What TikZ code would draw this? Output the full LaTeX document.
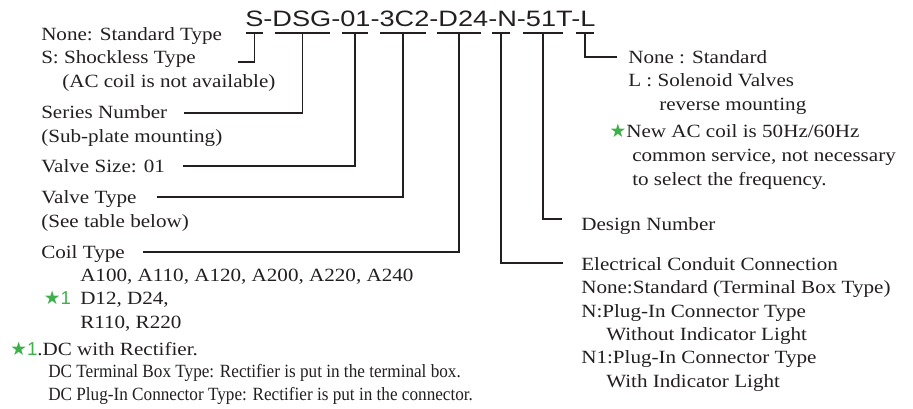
\documentclass[tikz,border=0pt]{standalone}
\usepackage{fontspec}
\setmainfont[FakeStretch=1.13]{Liberation Serif}
\newfontfamily\codefont[FakeStretch=1.22]{Liberation Sans}
\newfontfamily\numfont{Liberation Sans}
\newfontfamily\narrowfont[FakeStretch=0.92]{Liberation Serif}
\newfontfamily\symfont{DejaVu Sans}
\usepackage{tikz}
\usetikzlibrary{calc}
\definecolor{ink}{HTML}{231F20}
\definecolor{starGreen}{HTML}{3DB049}
\newcommand{\gstar}{{\color{starGreen}\symfont\fontsize{14}{14}\selectfont ★}}
\newcommand{\gone}{{\color{starGreen}\numfont 1}}
\tikzset{
  lbl/.style={anchor=base west, inner sep=0pt, align=left, text=ink, font=\fontsize{14}{17.5}\selectfont},
  notelbl/.style={lbl, font=\narrowfont\fontsize{14}{17.25}\selectfont},
  codetxt/.style={anchor=base west, inner sep=0pt, text=ink, font=\codefont\fontsize{16.7}{20}\selectfont},
  uline/.style={draw=ink, line width=0.9pt},
  lead/.style={draw=ink, line width=0.9pt}
}
\begin{document}
\begin{tikzpicture}[x=0.75pt,y=-0.75pt]
  \useasboundingbox (0,0) rectangle (913,408);
  % model code and its underlines
  \node[codetxt] (code) at (245,26) {S-DSG-01-3C2-D24-N-51T-L};
  \foreach \a/\b/\n in {246/263/S, 275/330/DSG, 342/368/01, 380/426/3C2,
                        437/481/D24, 492/510/N, 523/563/51T, 576/594/L}{
    \draw[uline] (\a,33) -- coordinate (u\n) (\b,33);
  }
  % left side labels (placed at the baseline of their last line)
  \node[lbl] (lType) at (41,87) {None: Standard Type\\S: Shockless Type\\\hspace*{15.75pt}(AC coil is not available)};
  \node[lbl] (lSeries) at (41,142) {Series Number\\(Sub-plate mounting)};
  \node[lbl] (lSize) at (41,172) {Valve Size: 01};
  \node[lbl] (lVType) at (41,227) {Valve Type\\(See table below)};
  \node[lbl] (lCoil) at (41,328) {Coil Type\\\hspace*{29.25pt}A100, A110, A120, A200, A220, A240\\
    \hspace*{2pt}\makebox[27.25pt][l]{\gstar\gone}D12, D24,\\\hspace*{29.25pt}R110, R220};
  \node[lbl] (lNote) at (10,355) {\gstar\gone.DC with Rectifier.};
  \node[notelbl] (lNoteA) at (48,400) {DC Terminal Box Type: Rectifier is put in the terminal box.\\
    DC Plug-In Connector Type: Rectifier is put in the connector.};
  % right side labels
  \node[lbl] (lRev) at (628,110) {None : Standard\\L : Solenoid Valves\\\hspace*{23.25pt}reverse mounting};
  \node[lbl, font=\fontsize{14}{18}\selectfont] (lFreq) at (626,185) {\llap{\gstar}New AC coil is 50Hz/60Hz\\
    \hspace*{4.5pt}common service, not necessary\\\hspace*{4.5pt}to select the frequency.};
  \node[lbl] (lDesign) at (581,230) {Design Number};
  \node[lbl] (lConduit) at (581,387) {Electrical Conduit Connection\\None:Standard (Terminal Box Type)\\
    N:Plug-In Connector Type\\\hspace*{18.75pt}Without Indicator Light\\
    N1:Plug-In Connector Type\\\hspace*{18.75pt}With Indicator Light};
  % leader ends
  \coordinate (eS) at (238,62);
  \coordinate (eSeries) at (184,113);
  \coordinate (eSize) at (183,166);
  \coordinate (eVType) at (157,197);
  \coordinate (eCoil) at (143,252);
  \coordinate (eRev) at (617,57);
  \coordinate (eDesign) at (562,219);
  \coordinate (eConduit) at (563,263);
  % leaders
  \draw[lead] (uS) |- (eS);
  \draw[lead] (uDSG) |- (eSeries);
  \draw[lead] (u01) |- (eSize);
  \draw[lead] (u3C2) |- (eVType);
  \draw[lead] (uD24) |- (eCoil);
  \draw[lead] (uL) |- (eRev);
  \draw[lead] (u51T) |- (eDesign);
  \draw[lead] (uN) |- (eConduit);
\end{tikzpicture}
\end{document}
